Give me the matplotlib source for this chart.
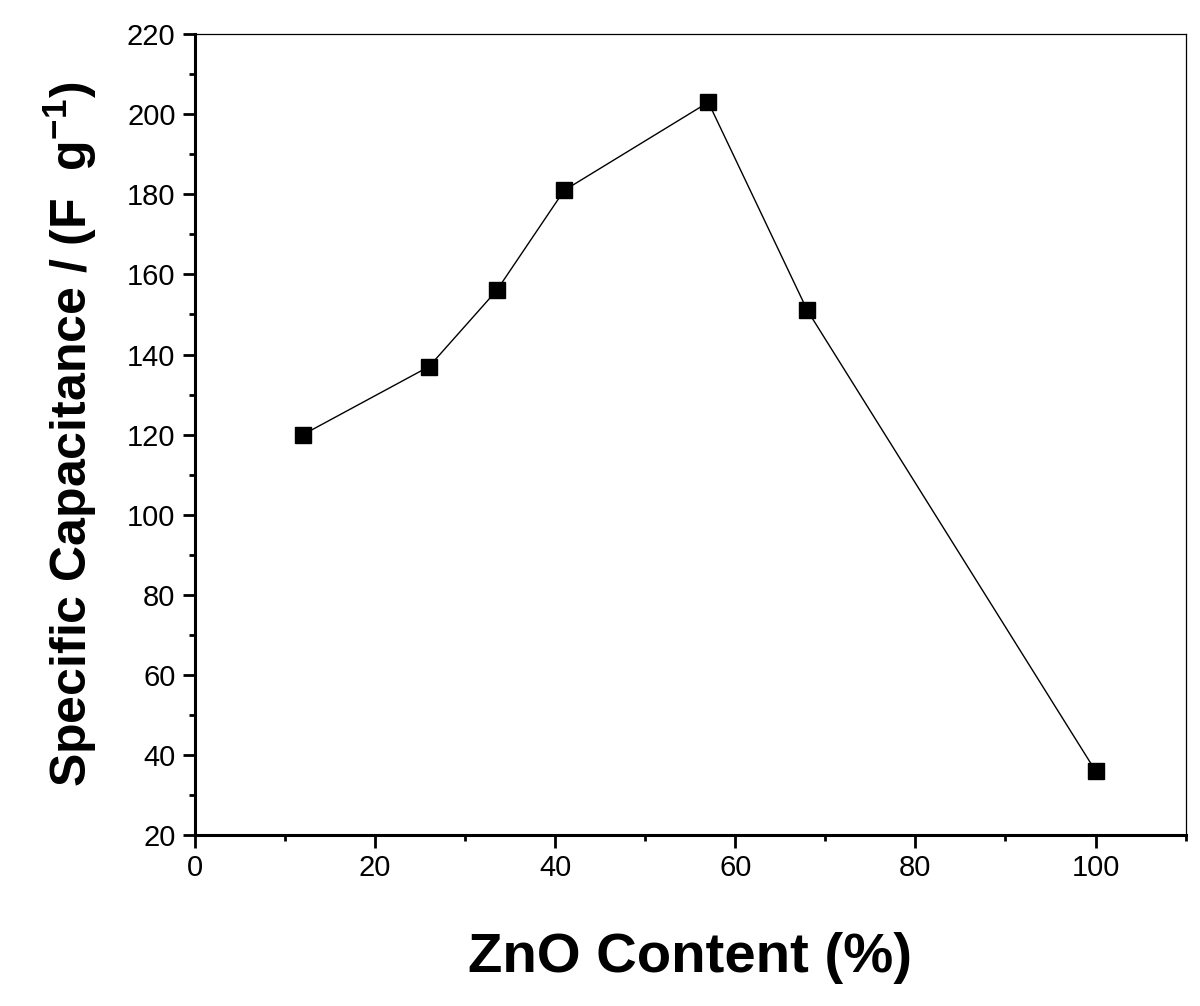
import matplotlib
matplotlib.use('Agg')
import matplotlib.pyplot as plt
from matplotlib.ticker import MultipleLocator

plt.rcParams['font.family'] = ['Liberation Sans', 'DejaVu Sans']
plt.rcParams['mathtext.fontset'] = 'custom'
plt.rcParams['mathtext.rm'] = 'Liberation Sans'
plt.rcParams['mathtext.bf'] = 'Liberation Sans:bold'

# ZnO content (%) vs specific capacitance (F/g)
zno_content = [12, 26, 33.5, 41, 57, 68, 100]
capacitance = [120, 137, 156, 181, 203, 151, 36]

fig = plt.figure(figsize=(12, 10.06), dpi=100)
ax = fig.add_axes([0.1625, 0.170, 0.8255, 0.796])

ax.plot(zno_content, capacitance, '-', color='black', linewidth=1.0,
        marker='s', markersize=12, markerfacecolor='black', markeredgecolor='black')

ax.set_xlim(0, 110)
ax.set_ylim(20, 220)
ax.xaxis.set_major_locator(MultipleLocator(20))
ax.xaxis.set_minor_locator(MultipleLocator(10))
ax.yaxis.set_major_locator(MultipleLocator(20))
ax.yaxis.set_minor_locator(MultipleLocator(10))

for side in ['left', 'bottom']:
    ax.spines[side].set_linewidth(2.2)
for side in ['top', 'right']:
    ax.spines[side].set_linewidth(0.9)

ax.tick_params(which='major', direction='out', length=9, width=2.0, labelsize=21, pad=5,
               top=False, right=False)
ax.tick_params(which='minor', direction='out', length=4.5, width=2.0, top=False, right=False)

ax.set_xlabel('ZnO Content (%)', fontsize=40.5, fontweight='bold', labelpad=36)
ax.set_ylabel(r'Specific Capacitance / (F  g$^{\mathbf{-1}}$)', fontsize=36, fontweight='bold',
              labelpad=20)

fig.savefig('out.png', dpi=100)
